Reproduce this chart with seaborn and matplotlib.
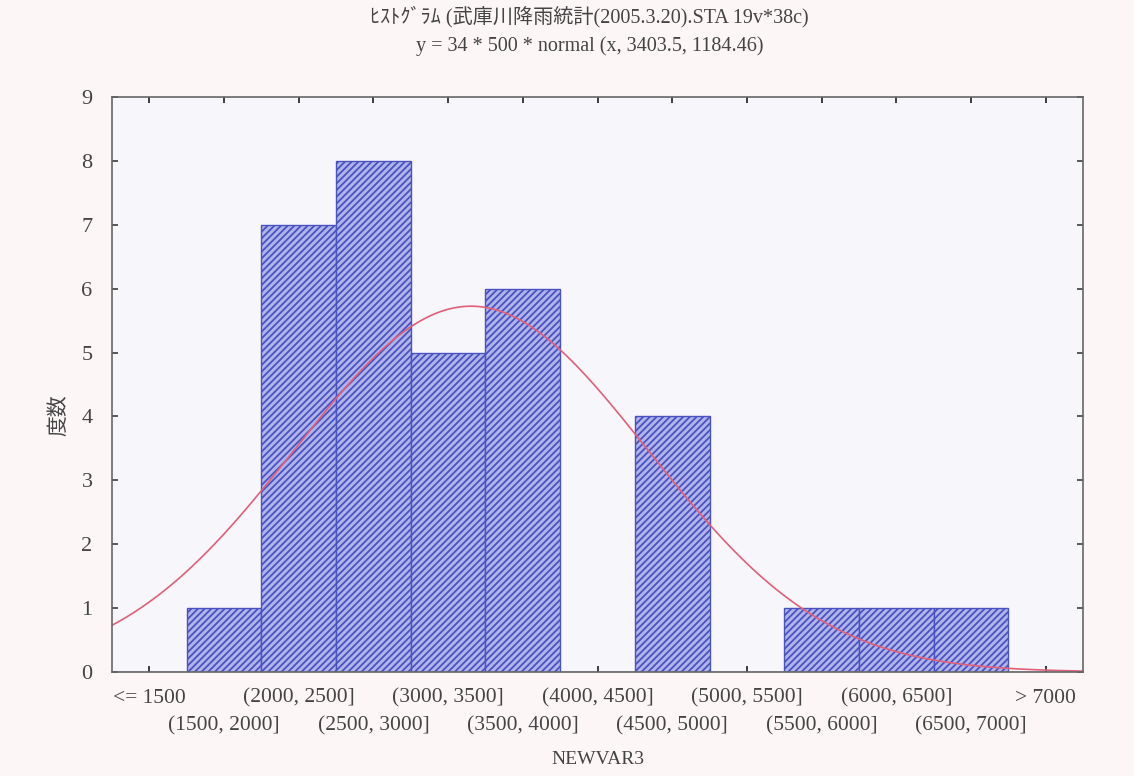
import numpy as np
import pandas as pd
import matplotlib
matplotlib.use("Agg")
import matplotlib.pyplot as plt
import seaborn as sns

# bins and counts
bins = ["<= 1500", "(1500, 2000]", "(2000, 2500]", "(2500, 3000]", "(3000, 3500]",
        "(3500, 4000]", "(4000, 4500]", "(4500, 5000]", "(5000, 5500]",
        "(5500, 6000]", "(6000, 6500]", "(6500, 7000]", "> 7000"]
counts = [0, 1, 7, 8, 5, 6, 0, 4, 0, 1, 1, 1, 0]

# fitted normal from the title: y = 34 * 500 * normal(x, 3403.5, 1184.46)
n_obs = 34
bin_width = 500
mu = 3403.5
sigma = 1184.46
first_center = 1250

title = "ﾋｽﾄｸﾞﾗﾑ (武庫川降雨統計(2005.3.20).STA 19v*38c)\ny = 34 * 500 * normal (x, 3403.5, 1184.46)"

sns.set_theme(style="white")
plt.rcParams['font.family'] = ['Liberation Serif', 'Noto Sans CJK JP', 'DejaVu Sans']
plt.rcParams['hatch.color'] = '#3a42a6'
plt.rcParams['hatch.linewidth'] = 1.3

df = pd.DataFrame({"bin": bins, "count": counts})

fig = plt.figure(figsize=(11.34, 7.76), dpi=100, facecolor="#fcf6f7")
ax = fig.add_axes([112/1134, 1 - 672/776, (1083-112)/1134, (672-97)/776])
ax.set_facecolor("#f7f6fb")

sns.barplot(data=df, x="bin", y="count", width=1.0, color="#b0b4ea",
            edgecolor="#4a52c0", linewidth=1.0, saturation=1, ax=ax)
for p in ax.patches:
    p.set_hatch("/////")

# normal curve in category coordinates
xv = np.linspace(first_center - bin_width/2, first_center + bin_width*(len(bins) - 0.5), 400)
yv = n_obs * bin_width * np.exp(-0.5*((xv - mu)/sigma)**2) / (sigma*np.sqrt(2*np.pi))
ax.plot((xv - first_center)/bin_width, yv, color="#e0607a", lw=1.2)

ax.set_xlim(-0.5, len(bins) - 0.5)
ax.set_ylim(0, 9)
ax.set_yticks(range(10))
ax.tick_params(axis="y", labelsize=16, direction="in", length=4, left=True, right=True,
               pad=14, colors="#444444")
ax.tick_params(axis="x", direction="in", length=4, bottom=True, top=True)

ax.set_xticks(range(len(bins)))
ax.set_xticklabels(bins, fontsize=15.5, color="#444444")
for i, t in enumerate(ax.xaxis.get_major_ticks()):
    t.set_pad(12 if i % 2 == 0 else 32)

for s in ax.spines.values():
    s.set_color("#666666")
    s.set_linewidth(1.2)

ax.set_xlabel("NEWVAR3", fontsize=14, color="#444444")
ax.xaxis.set_label_coords(0.5, -0.138)
ax.set_ylabel("度数", fontsize=15, color="#444444")
ax.yaxis.set_label_coords(-0.044, 0.447)
fig.suptitle(title, x=0.52, y=0.992, fontsize=14.5, color="#444444", linespacing=1.55)

fig.savefig("out.png", dpi=100, facecolor=fig.get_facecolor())
